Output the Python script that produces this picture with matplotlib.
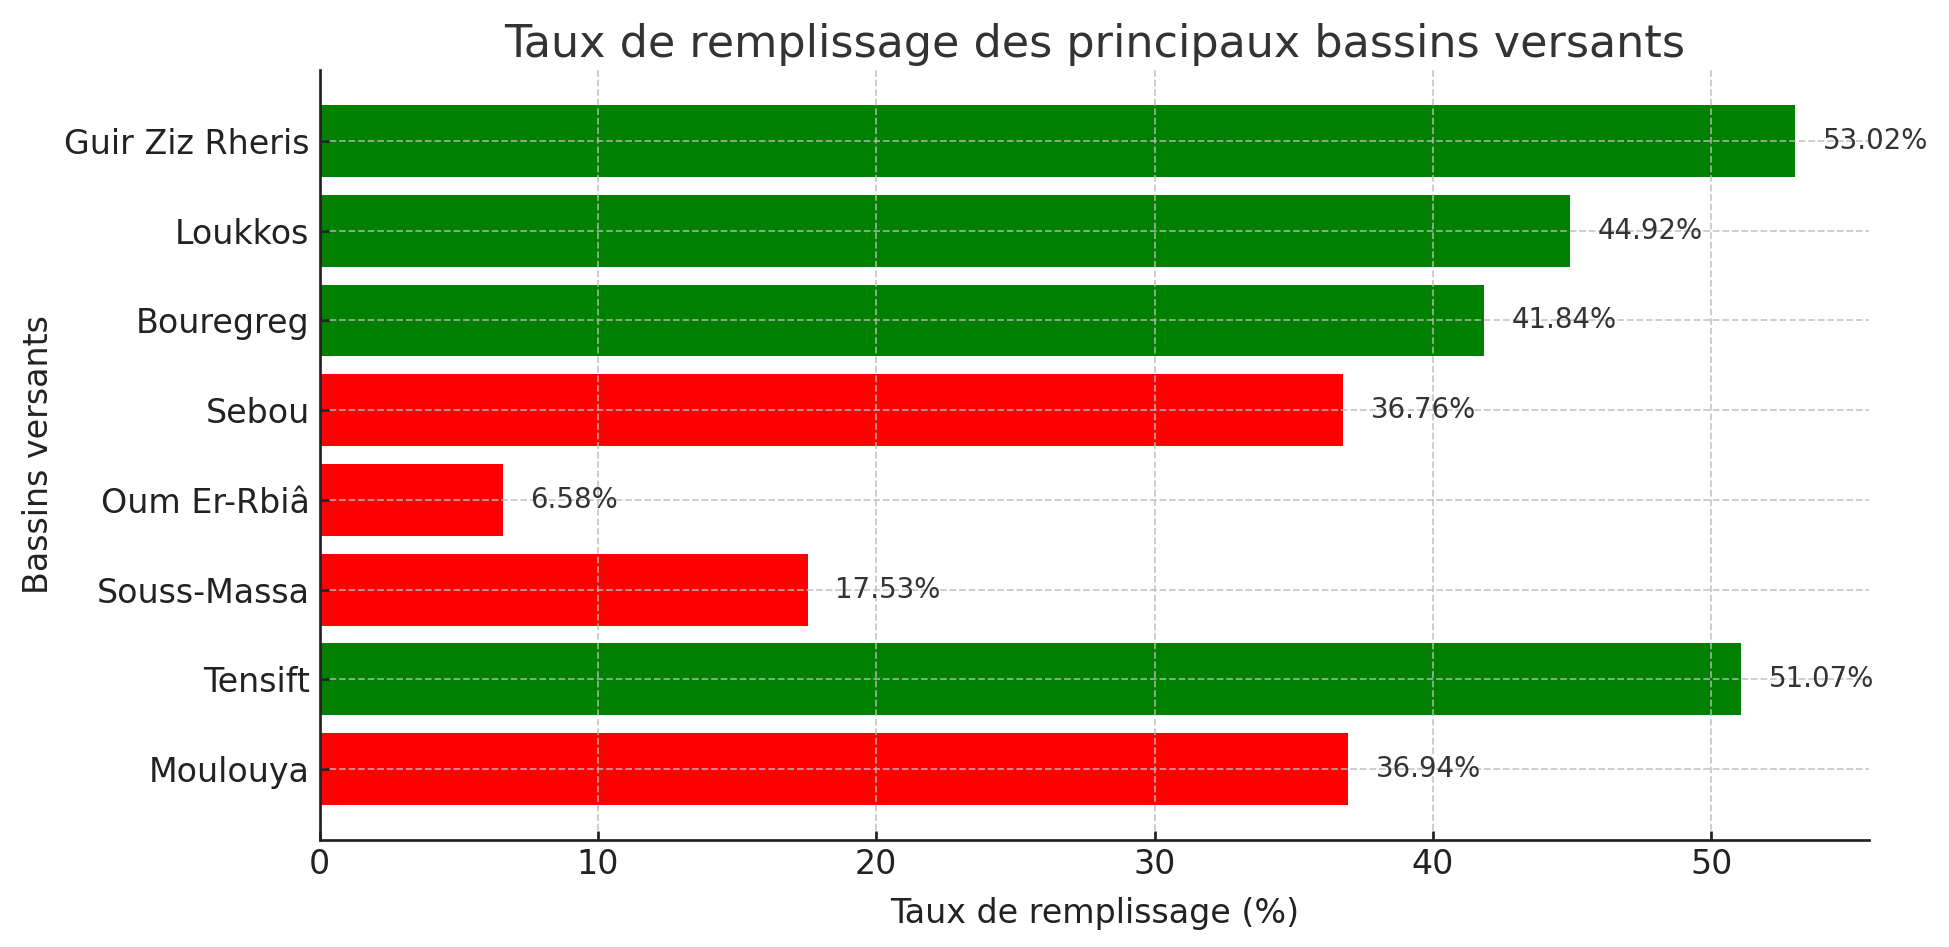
import matplotlib.pyplot as plt

# Bassins, de bas en haut
bassins = ["Moulouya", "Tensift", "Souss-Massa", "Oum Er-Rbiâ",
           "Sebou", "Bouregreg", "Loukkos", "Guir Ziz Rheris"]
taux = [36.94, 51.07, 17.53, 6.58, 36.76, 41.84, 44.92, 53.02]
seuil = 40

couleurs = ["green" if t > seuil else "red" for t in taux]

fig = plt.figure(figsize=(1949 / 162, 947 / 162), dpi=162)
ax = fig.add_axes([0.164, 0.113, 0.795, 0.813])

bars = ax.barh(bassins, taux, color=couleurs, height=0.8)
for bar, t in zip(bars, taux):
    ax.text(t + 1, bar.get_y() + bar.get_height() / 2, f"{t:.2f}%",
            va="center", ha="left", fontsize=12.3, color="#333333")

ax.set_xlim(0, max(taux) * 1.05)
ax.set_title("Taux de remplissage des principaux bassins versants",
             fontsize=19.75, color="#333333", pad=6)
ax.set_xlabel("Taux de remplissage (%)", fontsize=14.8, color="#222222",
              labelpad=7)
ax.set_ylabel("Bassins versants", fontsize=14.8, color="#222222",
              labelpad=4)
ax.tick_params(axis="both", labelsize=14.8, direction="in", colors="#222222",
               length=4, width=1.2)
ax.tick_params(axis="y", pad=4.5)
ax.grid(True, linestyle="--", color="#bbbbbb", alpha=0.8, linewidth=0.8)
ax.spines["top"].set_visible(False)
ax.spines["right"].set_visible(False)
for s in ["left", "bottom"]:
    ax.spines[s].set_color("#222222")
    ax.spines[s].set_linewidth(1.2)

fig.savefig("out.png", dpi=162)
